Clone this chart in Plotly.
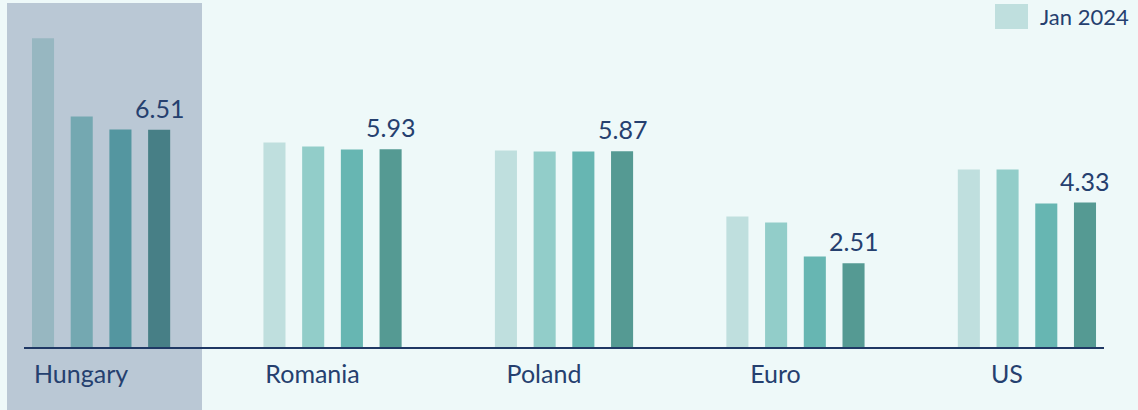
import plotly.graph_objects as go

categories = ["Hungary", "Romania", "Poland", "Euro", "US"]
series_names = ["Jan 2024", "Series 2", "Series 3", "Series 4"]
values = [
    [9.25, 6.13, 5.89, 3.91, 5.32],
    [6.91, 6.01, 5.86, 3.73, 5.32],
    [6.52, 5.92, 5.86, 2.71, 4.30],
    [6.51, 5.93, 5.87, 2.51, 4.33],
]
label_values = [6.51, 5.93, 5.87, 2.51, 4.33]

normal_colors = ["#BFDFDE", "#92CDC9", "#67B6B2", "#559A93"]
highlight_colors = ["#97B7C1", "#74A8B1", "#5496A0", "#477F86"]
highlight_index = 0

NAVY = "#25406F"
AXIS = "#1F3864"
PAPER = "#EEF9F9"
HL_BG = "#BAC8D5"
FONT = "Lato"

W, H = 1138, 410
ML, MR, MT, MB = 24, 34, 0, 63
PW = W - ML - MR
PH = H - MT - MB

bargap = 0.331
n_series = len(values)
x_pos = list(range(len(categories)))

fig = go.Figure()
for s, (name, vals) in enumerate(zip(series_names, values)):
    cols = [highlight_colors[s] if i == highlight_index else normal_colors[s]
            for i in range(len(categories))]
    fig.add_trace(go.Bar(
        x=x_pos, y=vals, name=name,
        marker=dict(color=cols, line=dict(width=0)),
        showlegend=False, hoverinfo="x+y+name",
    ))

slot = (1 - bargap) / n_series
offset = (n_series - 1) / 2 * slot
annotations = []
for i, v in enumerate(label_values):
    annotations.append(dict(
        x=i + offset, y=v, xref="x", yref="y", text=f"{v:.2f}",
        showarrow=False, yanchor="bottom", yshift=5,
        font=dict(family=FONT, size=25, color=NAVY),
    ))
# custom legend entry
annotations.append(dict(
    x=(1038 - ML) / PW, y=1.0, xref="paper", yref="paper", xanchor="left", yanchor="top",
    text=series_names[0], showarrow=False, yshift=-1,
    font=dict(family=FONT, size=22, color=NAVY),
))

shapes = [
    dict(type="rect", xref="paper", yref="paper",
         x0=(7 - ML) / PW, x1=(202 - ML) / PW, y0=-MB / PH, y1=1 - 3 / PH,
         fillcolor=HL_BG, line=dict(width=0), layer="below"),
    dict(type="rect", xref="paper", yref="paper", x0=(995 - ML) / PW, x1=(1028 - ML) / PW,
         y0=1 - 29 / PH, y1=1 - 4 / PH, fillcolor=normal_colors[0], line=dict(width=0)),
]

fig.update_layout(
    width=W, height=H,
    margin=dict(l=ML, r=MR, t=MT, b=MB),
    paper_bgcolor=PAPER, plot_bgcolor="rgba(0,0,0,0)",
    barmode="group", bargap=bargap, bargroupgap=0.43,
    annotations=annotations, shapes=shapes,
    font=dict(family=FONT, color=NAVY),
    xaxis=dict(
        range=[-0.333, 4.333], tickmode="array", tickvals=x_pos, ticktext=categories,
        showline=True, linecolor=AXIS, linewidth=2, ticks="", showgrid=False,
        zeroline=False, tickfont=dict(family=FONT, size=25, color=NAVY),
        ticklabelshift=-20, ticklabelstandoff=4,
    ),
    yaxis=dict(range=[0, 10.40], visible=False, showgrid=False, zeroline=False),
)

fig.write_html(
    "out.html",
    config={"displayModeBar": False},
    post_script="document.body.style.margin='0';document.body.style.background='" + PAPER + "';",
)
